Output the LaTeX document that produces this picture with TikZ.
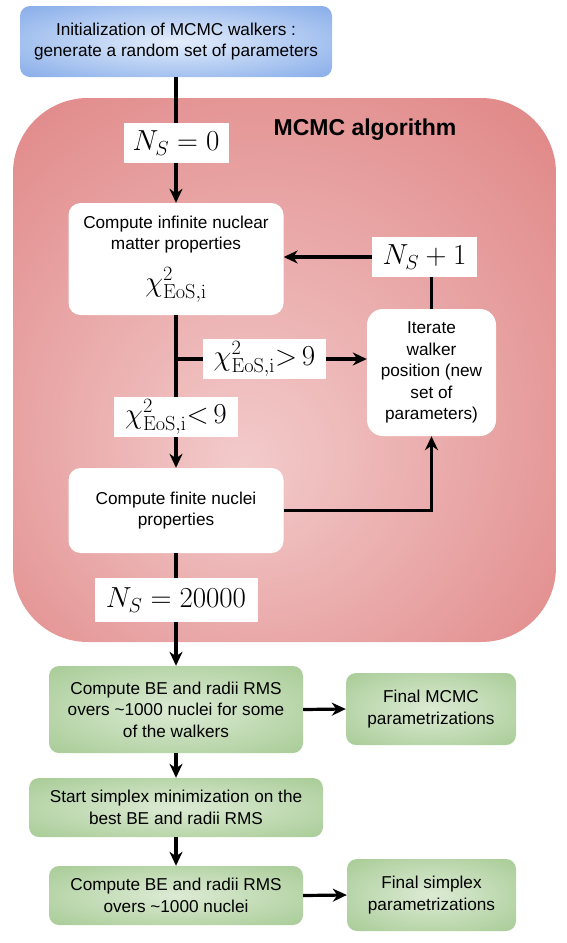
\RequirePackage{fix-cm}
\documentclass[tikz,border=0pt]{standalone}
\usepackage[no-math]{fontspec}
\setmainfont{Liberation Sans}
\usetikzlibrary{arrows.meta,calc}
\definecolor{redin}{RGB}{243,203,203}
\definecolor{redout}{RGB}{216,104,104}
\definecolor{bluein}{RGB}{228,238,252}
\definecolor{blueout}{RGB}{100,148,226}
\definecolor{greenin}{RGB}{220,235,212}
\definecolor{greenout}{RGB}{144,189,122}
\pgfdeclareradialshading{redsh}{\pgfpoint{-4bp}{-9bp}}{color(0bp)=(redin); color(54bp)=(redout)}
\pgfdeclareradialshading{bluesh}{\pgfpoint{0bp}{0bp}}{color(0bp)=(bluein); color(49bp)=(blueout)}
\pgfdeclareradialshading{greensh}{\pgfpoint{0bp}{0bp}}{color(0bp)=(greenin); color(52bp)=(greenout)}
\tikzset{
  txt/.style={font=\fontsize{17.2}{21.5}\selectfont, align=center, inner sep=0pt},
  whitebox/.style={txt, fill=white, rounded corners=12pt},
  greenbox/.style={txt, shade, shading=greensh, rounded corners=10pt},
  lbl/.style={fill=white, inner sep=0pt, font=\fontsize{29}{34}\selectfont},
  ln/.style={line width=3.2pt},
  arr/.style={line width=3.2pt, -{Stealth[length=14pt,width=13pt,inset=4.5pt]}},
}
\begin{document}
\begin{tikzpicture}[x=1pt,y=-1pt]
\useasboundingbox (0,0) rectangle (566,943);
% MCMC region
\node[shade, shading=redsh, rounded corners=75pt, minimum width=543pt, minimum height=544pt, inner sep=0pt] (mcmc) at (284.5,370) {};
\node[font=\fontsize{23}{27}\selectfont\bfseries, inner sep=0pt] (title) at (365,130) {MCMC algorithm};
% boxes
\node[txt, shade, shading=bluesh, rounded corners=10pt, minimum width=312pt, minimum height=71pt] (init) at (176,41.5) {Initialization of MCMC walkers :\\generate a random set of parameters};
\node[lbl, minimum width=105pt, minimum height=40pt] (ns0) at (176,143) {$N_S = 0$};
\node[whitebox, minimum width=215pt, minimum height=112pt] (b1) at (176,259) {Compute infinite nuclear\\matter properties\\[13pt]{\fontsize{29}{29}\selectfont$\chi^2_{\mathrm{EoS,i}}$}};
\node[lbl, minimum width=105pt, minimum height=40pt] (nsp1) at (424.5,257) {$N_S + 1$};
\node[whitebox, rounded corners=16pt, minimum width=129pt, minimum height=127pt] (it) at (431.5,372.5) {Iterate\\walker\\position (new\\set of\\parameters)};
\node[lbl, minimum width=123pt, minimum height=40pt] (gt) at (264.5,359) {$\chi^2_{\mathrm{EoS,i}}{>}\,9$};
\node[lbl, minimum width=124pt, minimum height=40pt] (lt) at (176,417) {$\chi^2_{\mathrm{EoS,i}}{<}\,9$};
\node[whitebox, minimum width=215pt, minimum height=85pt] (b2) at (176,510.5) {Compute finite nuclei\\properties};
\node[lbl, minimum width=163pt, minimum height=44pt] (ns20k) at (176,600) {$N_S = 20000$};
\node[greenbox, minimum width=254pt, minimum height=87pt] (g1) at (176,709.5) {Compute BE and radii RMS\\overs \textasciitilde1000 nuclei for some\\of the walkers};
\node[greenbox, minimum width=170pt, minimum height=72pt] (fm) at (431,709) {Final MCMC\\parametrizations};
\node[greenbox, minimum width=294pt, minimum height=59pt] (g2) at (176,807.5) {Start simplex minimization on the\\best BE and radii RMS};
\node[greenbox, minimum width=254pt, minimum height=59pt] (g3) at (176,895.5) {Compute BE and radii RMS\\overs \textasciitilde1000 nuclei};
\node[greenbox, minimum width=169pt, minimum height=72pt] (fs) at (431.5,895) {Final simplex\\parametrizations};
% connectors
\coordinate (br) at (176,359);
\draw[ln] (init.south) -- (ns0.north);
\draw[arr] (ns0.south) -- (b1.north);
\draw[ln] (b1.south) -- (br) -- (lt.north);
\draw[ln] (br) -- (gt.west);
\draw[arr] (gt.east) -- (gt.east -| it.west);
\draw[arr] (lt.south) -- (b2.north);
\draw[arr] (b2.east) -| (it.south);
\draw[ln] (it.north) -- (it.north |- nsp1.south);
\draw[arr] (nsp1.west) -- (nsp1.west -| b1.east);
\draw[ln] (b2.south) -- (ns20k.north);
\draw[arr] (ns20k.south) -- (g1.north);
\draw[arr] (g1.east) -- (fm.west);
\draw[arr] (g1.south) -- (g2.north);
\draw[arr] (g2.south) -- (g3.north);
\draw[arr] (g3.east) -- (fs.west);
\end{tikzpicture}
\end{document}
